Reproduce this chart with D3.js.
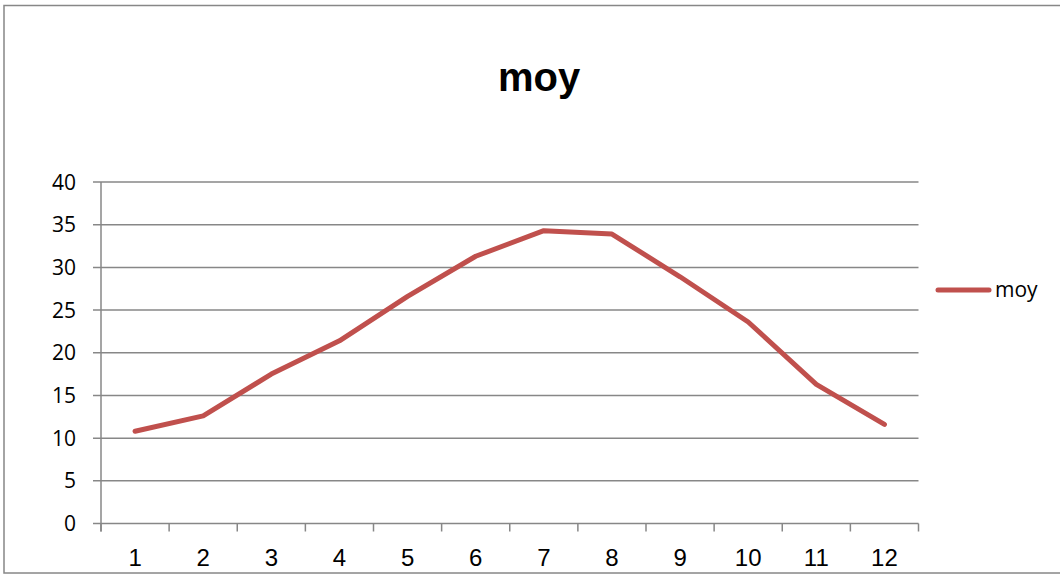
<!DOCTYPE html>
<html>
<head>
<meta charset="utf-8">
<script src="https://cdn.jsdelivr.net/npm/d3@7"></script>
<style>
  body { margin: 0; background: #fff; }
  svg { display: block; }
</style>
</head>
<body>
<svg id="chart" width="1060" height="575"></svg>
<script>
let months = ['1', '2', '3', '4', '5', '6', '7', '8', '9', '10', '11', '12'];
let moy = [10.8, 12.6, 17.5, 21.4, 26.6, 31.3, 34.3, 33.9, 28.9, 23.6, 16.3, 11.6];
let yTicks = [0, 5, 10, 15, 20, 25, 30, 35, 40];
let seriesName = 'moy';

let svg = d3.select('#chart');

// chart border (right side runs off the picture)
svg.append('rect')
    .attr('x', 4)
    .attr('y', 5.5)
    .attr('width', 1100)
    .attr('height', 567.5)
    .attr('fill', 'none')
    .attr('stroke', '#878787')
    .attr('stroke-width', 1.5)

let plotLeft = 101, plotRight = 918.5, plotTop = 182, plotBottom = 523.5;

let x = d3.scaleBand()
    .domain(months)
    .range([plotLeft, plotRight])

let y = d3.scaleLinear()
    .domain([0, 40])
    .range([plotBottom, plotTop])

// gridlines
svg.append('g')
    .selectAll('line')
    .data(yTicks)
    .enter()
    .append('line')
    .attr('x1', plotLeft - 8)
    .attr('x2', plotRight)
    .attr('y1', (d) => y(d))
    .attr('y2', (d) => y(d))
    .attr('stroke', '#878787')
    .attr('stroke-width', 1.5)

// y labels
svg.append('g')
    .selectAll('text')
    .data(yTicks)
    .enter()
    .append('text')
    .attr('x', 76)
    .attr('y', (d) => y(d) + 7.5)
    .attr('text-anchor', 'end')
    .style('font-family', 'Open Sans')
    .style('font-size', '21px')
    .attr('fill', '#000')
    .text((d) => d)

// y axis line
svg.append('line')
    .attr('x1', plotLeft)
    .attr('x2', plotLeft)
    .attr('y1', plotTop)
    .attr('y2', plotBottom + 8)
    .attr('stroke', '#878787')
    .attr('stroke-width', 1.5)

// x axis ticks at category borders
let xBorders = months.map((d) => x(d)).concat([plotRight]);
svg.append('g')
    .selectAll('line')
    .data(xBorders)
    .enter()
    .append('line')
    .attr('x1', (d) => d)
    .attr('x2', (d) => d)
    .attr('y1', plotBottom)
    .attr('y2', plotBottom + 8)
    .attr('stroke', '#878787')
    .attr('stroke-width', 1.5)

svg.append('g')
    .selectAll('text')
    .data(months)
    .enter()
    .append('text')
    .attr('x', (d) => x(d) + x.bandwidth() / 2)
    .attr('y', 566)
    .attr('text-anchor', 'middle')
    .style('font-family', 'Liberation Sans')
    .style('font-size', '24px')
    .attr('fill', '#000')
    .text((d) => d)

// series line
let line = d3.line()
    .x((d, i) => x(months[i]) + x.bandwidth() / 2)
    .y((d) => y(d))

svg.append('path')
    .datum(moy)
    .attr('d', line)
    .attr('fill', 'none')
    .attr('stroke', '#C0504D')
    .attr('stroke-width', 5)
    .attr('stroke-linejoin', 'round')
    .attr('stroke-linecap', 'round')

// title
svg.append('text')
    .attr('x', 539)
    .attr('y', 91)
    .attr('text-anchor', 'middle')
    .style('font-family', 'Liberation Sans')
    .style('font-weight', 'bold')
    .style('font-size', '40px')
    .attr('fill', '#000')
    .text(seriesName)

// legend
svg.append('line')
    .attr('x1', 938)
    .attr('x2', 989)
    .attr('y1', 290)
    .attr('y2', 290)
    .attr('stroke', '#C0504D')
    .attr('stroke-width', 5)
    .attr('stroke-linecap', 'round')

svg.append('text')
    .attr('x', 995)
    .attr('y', 297)
    .style('font-family', 'Open Sans')
    .style('font-size', '21px')
    .attr('fill', '#000')
    .text(seriesName)
</script>
</body>
</html>
